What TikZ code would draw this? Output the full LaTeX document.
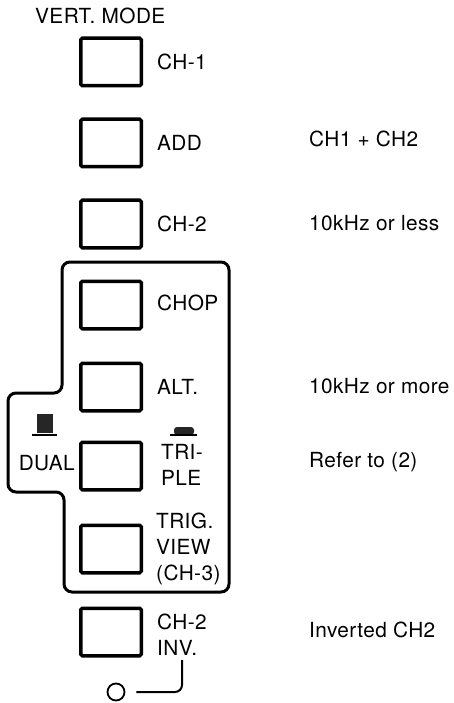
\documentclass[tikz,border=0pt]{standalone}
\usepackage{fontspec}
\setmainfont[LetterSpace=2]{TeX Gyre Heros}
\usetikzlibrary{positioning}
\tikzset{
  btn/.style={draw,line width=3.5pt,rounded corners=1.5pt,minimum width=60.5pt,minimum height=47.5pt,inner sep=0pt},
  lbl/.style={anchor=west,inner sep=0pt,align=left},
  note/.style={anchor=base west,inner sep=0pt}
}

\begin{document}
\begin{tikzpicture}[x=1pt,y=-1pt,font=\fontsize{20.8}{26}\selectfont]
  \fill[white] (0,0) rectangle (453,703);
  \useasboundingbox (0,0) rectangle (453,703);
  \node[note] (title) at (35,24) {VERT. MODE};
  % push buttons, one per row
  \foreach \n/\y in {ch1/62,add/143,chtwo/224,chop/305,alt/387,tri/466,trig/549,inv/632} {
     \node[btn] (\n) at (111,\y) {};
  }
  \node[lbl,right=14pt of ch1] (ch1l) {CH-1};
  \node[lbl,right=14pt of add] (addl) {ADD};
  \node[lbl,right=14pt of chtwo] (chtwol) {CH-2};
  \node[lbl,right=14pt of chop,yshift=2pt] (chopl) {CHOP};
  \node[lbl,right=14pt of alt] (altl) {ALT.};
  \node[lbl,right=18pt of tri,yshift=1pt] (tril) {TRI-\\PLE};
  \node[lbl,left=4pt of tri,yshift=3pt] (duall) {DUAL};
  \node[lbl,right=13pt of trig] (trigl) {TRIG.\\VIEW\\(CH-3)};
  \node[lbl,right=14pt of inv,yshift=-3pt] (invl) {CH-2\\INV.};
  % notes on the right
  \node[note] (addn) at (309,147) {CH1 + CH2};
  \node[note] (chtwon) at (309,230) {10kHz or less};
  \node[note] (altn) at (309,393) {10kHz or more};
  \node[note] (trin) at (309,467) {Refer to (2)};
  \node[note] (invn) at (309,637) {Inverted CH2};
  % frame round the group
  \draw[line width=3pt,rounded corners=8pt] (150,262) -- (229,262) -- (229,592) -- (64,592)
     -- (64,492) -- (8,492) -- (8,393) -- (62,393) -- (62,262) -- cycle;
  % DUAL / TRIPLE switch marks
  \fill[black!85] (37,414) rectangle (53,433);
  \draw[line width=2pt] (32,435) -- (57,435);
  \fill[black!85,rounded corners=3pt] (174,435) -- (174,427) -- (194,427) -- (194,435) -- cycle;
  \draw[line width=2pt] (170,435) -- (197,435);
  % knob and its lead
  \node[circle,draw,line width=1.8pt,minimum size=17pt,inner sep=0pt] (knob) at (116,692) {};
  \coordinate (hook) at (182,660);
  \draw[line width=2pt,rounded corners=7pt] (hook) |- ([xshift=11pt]knob.east);
\end{tikzpicture}
\end{document}
